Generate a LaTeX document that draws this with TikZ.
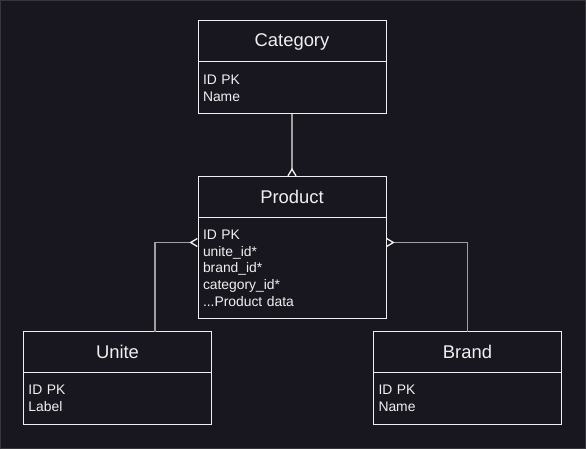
\documentclass[tikz,border=0pt]{standalone}
\usepackage{fontspec}
\setmainfont{Liberation Sans}
\usetikzlibrary{positioning,arrows.meta}
\definecolor{bgdark}{HTML}{18161F}
\definecolor{inkwhite}{HTML}{F0F0F0}
\definecolor{linkgray}{HTML}{A0A0A0}
\tikzset{
  enthead/.style={draw=inkwhite,line width=0.75pt,outer sep=0pt,minimum width=141pt,minimum height=30.75pt,
    text=inkwhite,font=\fontsize{13.8}{16}\selectfont,inner sep=0pt},
  entbody/.style={draw=inkwhite,line width=0.75pt,outer sep=0pt,minimum width=141pt,text width=133.5pt,
    inner xsep=3.75pt,inner ysep=0pt,align=left,text=inkwhite,
    font=\fontsize{10.4}{12.5}\selectfont},
  rel/.style={draw=linkgray,line width=1pt,-{Straight Barb[reversed,length=5pt,width=6pt,color=inkwhite]}}
}
\begin{document}
\begin{tikzpicture}[x=0.75pt,y=-0.75pt]
  \fill[bgdark] (0,0) rectangle (586,449);
  \draw[gray!30!bgdark,line width=0.75pt] (0.5,0.5) rectangle (585.5,448.5);
  % entities
  \node[enthead] (cathead) at (292,41.5) {Category};
  \node[entbody,minimum height=39pt,below=0pt of cathead] (catbody) {ID PK\\Name};
  \node[enthead] (prodhead) at (292,197) {Product};
  \node[entbody,minimum height=75.75pt,below=0pt of prodhead] (prodbody)
    {ID PK\\unite\_id*\\brand\_id*\\category\_id*\\...Product data};
  \node[enthead] (unitehead) at (117.5,352) {Unite};
  \node[entbody,minimum height=39pt,below=0pt of unitehead] (unitebody) {ID PK\\Label};
  \node[enthead] (brandhead) at (467.5,352) {Brand};
  \node[entbody,minimum height=39pt,below=0pt of brandhead] (brandbody) {ID PK\\Name};
  % relations
  \draw[rel] (catbody.south) -- (prodhead.north);
  \draw[rel] ([xshift=28.125pt]unitehead.north) |- ([yshift=-18.75pt]prodbody.north west);
  \draw[rel] (brandhead.north) |- ([yshift=-18.75pt]prodbody.north east);
\end{tikzpicture}
\end{document}
